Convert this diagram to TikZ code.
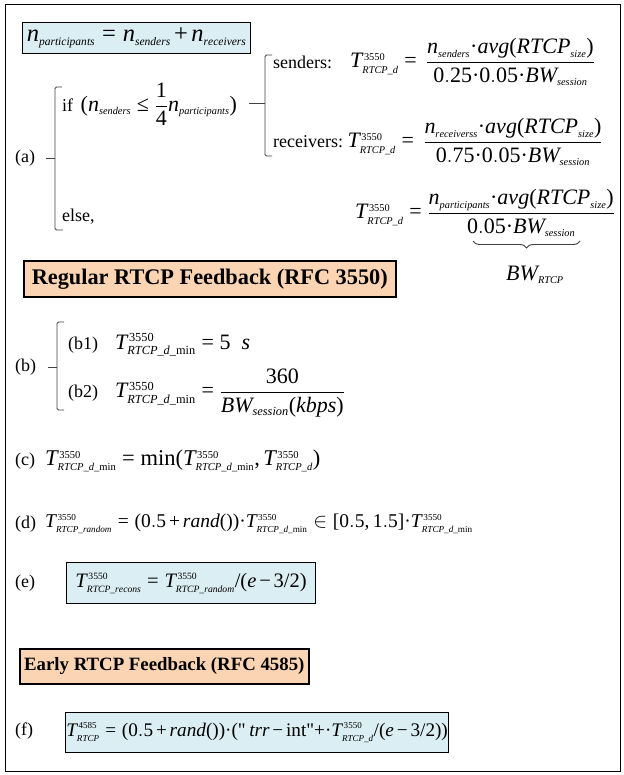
\documentclass[tikz,border=0pt]{standalone}
\usepackage{amsmath}
\usepackage{mathspec}
\setmainfont{Liberation Serif}[NFSSFamily=libser]
\setmathsfont(Digits,Latin)[Scale=1]{Liberation Serif}
\setmathrm{Liberation Serif}
\renewcommand{\defaultscriptratio}{.47}
\renewcommand{\defaultscriptscriptratio}{.4}
% upright Times-like symbols for relations, operators and fences
\DeclareSymbolFont{trm}{TU}{libser}{m}{n}
\Umathcode`= = 3 \symtrm "003D
\Umathcode`+ = 2 \symtrm "002B
\Umathcode`( = 4 \symtrm "0028
\Umathcode`) = 5 \symtrm "0029
\Umathcode`[ = 4 \symtrm "005B
\Umathcode`] = 5 \symtrm "005D
\Umathcode`/ = 0 \symtrm "002F
\Umathcode`- = 2 \symtrm "2212
\Umathcode`, = 6 \symtrm "002C
\newcommand{\lee}{\mathrel{\Umathchar "3 \symtrm "2264}}
\newcommand{\md}{\mathord{\Umathchar "0 \symtrm "00B7}}
\thickmuskip=5mu plus 1mu
\medmuskip=2.5mu plus 1mu
\usetikzlibrary{decorations.pathreplacing}
\definecolor{boxblue}{RGB}{219,238,243}
\definecolor{hdrorange}{RGB}{251,212,180}
\newcommand{\us}{\_}
\newcommand{\Tx}[2]{T^{\kern1.6pt #1}_{#2}}
\newcommand{\qd}{\text{\textquotedbl}}
\newcommand{\fs}[1]{\fontsize{#1}{#1}\selectfont}
% a size whose scripts are set a little larger
\newcommand{\fsbig}{\def\defaultscriptratio{.56}\fs{22.01}}
\begin{document}
\begin{tikzpicture}[x=1pt,y=-1pt,
  lbl/.style={font=\fs{18}, inner sep=0pt, anchor=west},
  eq/.style={font=\fs{22}, inner sep=0pt, anchor=west},
  bluebox/.style={draw=black, line width=1.2pt, fill=boxblue, inner sep=0pt,
    font=\fs{22}, anchor=north west},
  hdr/.style={draw=black, line width=1.6pt, fill=hdrorange, inner sep=0pt,
    anchor=north west},
  brk/.style={draw=black!75, line width=0.9pt, rounded corners=1.5pt},
  ubrace/.style={draw=black!75, line width=0.9pt, decorate,
    decoration={brace, mirror, amplitude=7pt}}]

\useasboundingbox (0,0) rectangle (623,775);
\draw[line width=1pt] (5,5) rectangle (620,771);

% participants sum
\node[bluebox, minimum width=228pt, minimum height=31pt, font=\fs{24.5}] (sum) at (22,22)
  {$n_{participants} = n_{senders} + n_{receivers}$};

% (a) case split
\node[lbl] (la) at (15,158) {(a)};
\draw[brk] (62,87) -- (55,87) -- (55,230) -- (63,230);
\draw[brk] (55,158) -- (46,158);
\node[lbl] (ifc) at (62,104) {if\ \,{\fs{22}$(n_{senders} \lee \dfrac{1}{4}n_{participants})$}};
\node[lbl] (els) at (62,217) {else,};

\draw[brk] (272,55) -- (265,55) -- (265,156) -- (272,156);
\draw[brk] (265,103) -- (249,103);

\node[lbl] (snd) at (273,62) {senders:};
\node[eq] (tsnd) at (350,62)
  {$\Tx{3550}{RTCP\us d} =\, \dfrac{n_{senders}\md avg(RTCP_{size})}{0.25\md 0.05\md BW_{session}}$};
\node[lbl] (rcv) at (273,142) {receivers:};
\node[eq] (trcv) at ([xshift=4pt]rcv.east)
  {$\Tx{3550}{RTCP\us d} =\, \dfrac{n_{receiverss}\md avg(RTCP_{size})}{0.75\md 0.05\md BW_{session}}$};
\node[eq] (tels) at (355,213)
  {$\Tx{3550}{RTCP\us d} = \dfrac{n_{participants}\md avg(RTCP_{size})}{0.05\md BW_{session}}$};
\coordinate (brL) at (473,241);
\coordinate (brR) at (580,241);
\draw[ubrace] (brL) -- (brR);
\node[eq, anchor=center] (bwr) at (535,275) {$BW_{RTCP}$};

% regular feedback
\node[hdr, minimum width=372pt, minimum height=36pt,
  font=\fs{22.3}\bfseries] (h1) at (23,260)
  {Regular RTCP Feedback (RFC 3550)};

% (b)
\node[lbl] (lb) at (15,367) {(b)};
\draw[brk] (64,322) -- (57,322) -- (57,410) -- (64,410);
\draw[brk] (57,367) -- (48,367);
\node[lbl] (lb1) at (68,345) {(b1)};
\node[eq, font=\fsbig] (tb1) at (115,345) {$\Tx{3550}{RTCP\us d\us \mathrm{min}} = 5\ \ s$};
\node[lbl] (lb2) at (68,393) {(b2)};
\node[eq, font=\fsbig] (tb2) at (115,393) {$\Tx{3550}{RTCP\us d\us \mathrm{min}} = \dfrac{360}{BW_{session}(kbps)}$};

% (c)
\node[lbl] (lc) at (15,461) {(c)};
\node[eq, font=\fs{22.5}] (tc) at (45,461)
  {$\Tx{3550}{RTCP\us d\us \mathrm{min}} = \min(\Tx{3550}{RTCP\us d\us \mathrm{min}}, \Tx{3550}{RTCP\us d})$};

% (d)
\node[lbl] (ld) at (15,524) {(d)};
\node[eq, font=\fs{19.5}] (td) at (45,524)
  {$\Tx{3550}{RTCP\us random} = (0.5 + rand())\md\Tx{3550}{RTCP\us d\us \mathrm{min}} \in [0.5, 1.5]\md\Tx{3550}{RTCP\us d\us \mathrm{min}}$};

% (e)
\node[lbl] (le) at (15,583) {(e)};
\node[bluebox, minimum width=249pt, minimum height=41pt, font=\fs{20.5}] (te) at (66,562)
  {$\Tx{3550}{RTCP\us recons} = \Tx{3550}{RTCP\us random}/(e - 3/2)$};

% early feedback
\node[hdr, minimum width=289pt, minimum height=35pt,
  font=\fs{18.8}\bfseries] (h2) at (19,648)
  {Early RTCP Feedback (RFC 4585)};

% (f)
\node[lbl] (lf) at (15,731) {(f)};
\node[bluebox, minimum width=383pt, minimum height=40pt, font=\fs{19.2}] (tf) at (65,712)
  {$\Tx{4585}{RTCP} = (0.5 + rand())\md(\qd\,trr - \mathrm{int}\qd{+}\md\Tx{3550}{RTCP\us d}/(e - 3/2))$};
\end{tikzpicture}
\end{document}
